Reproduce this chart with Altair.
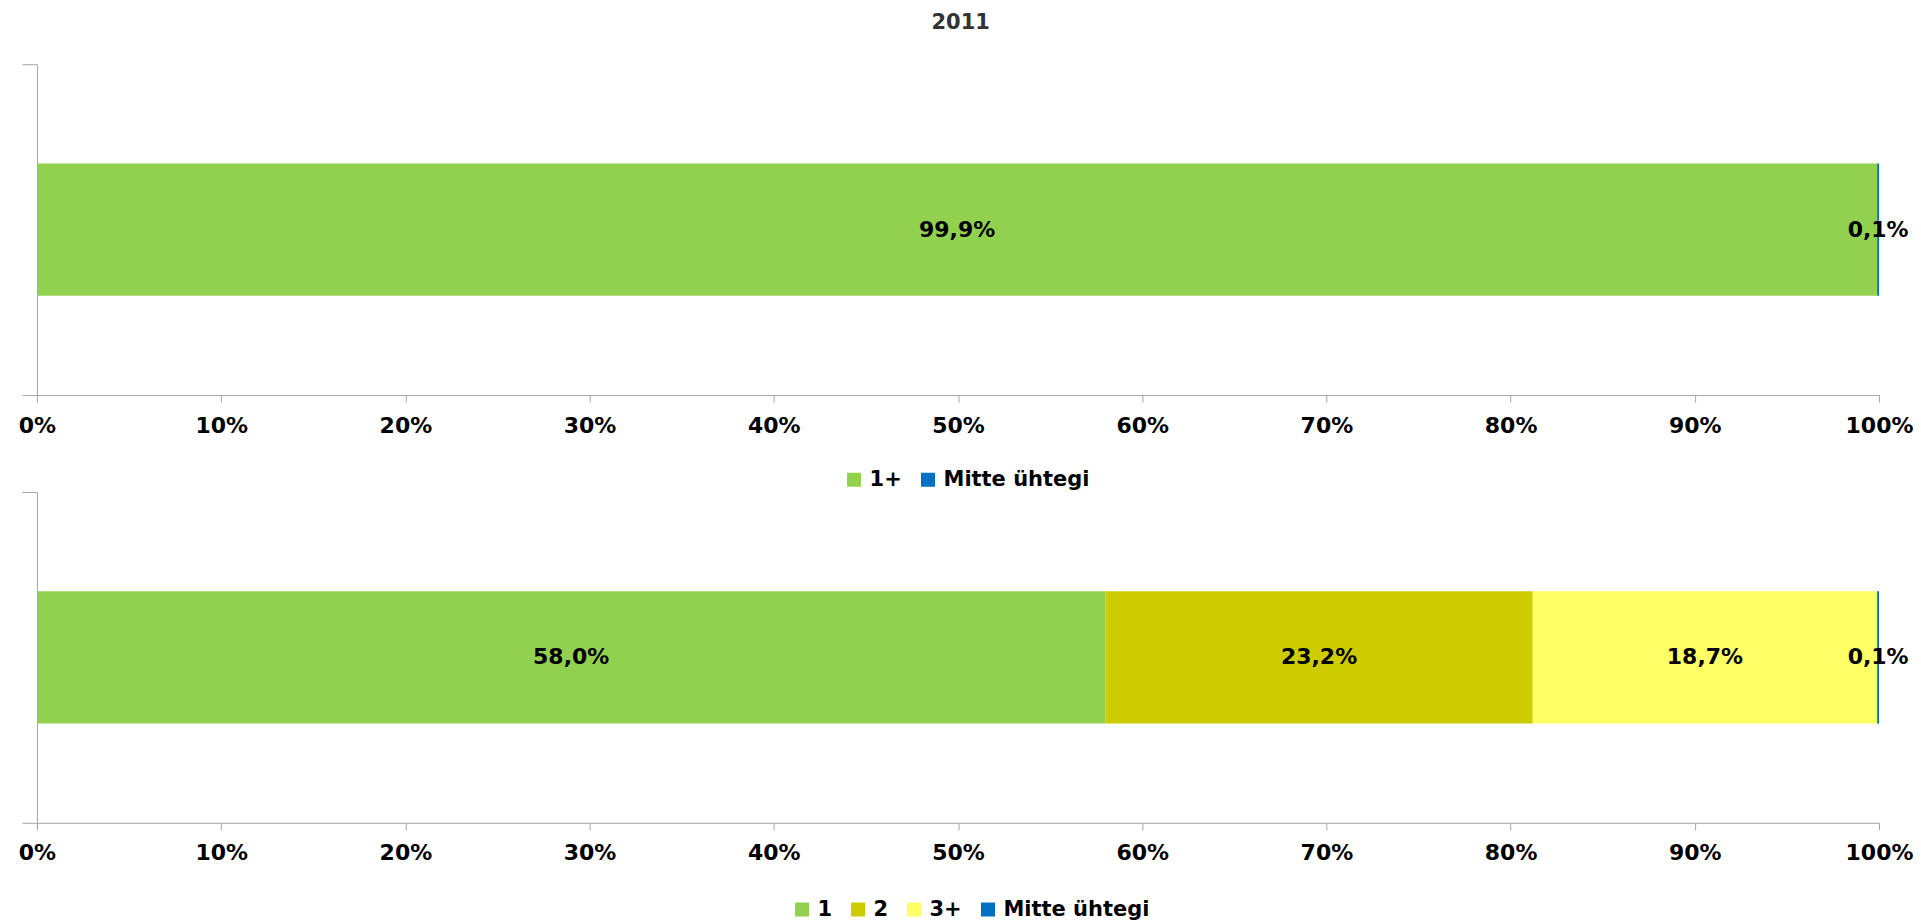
import altair as alt
import pandas as pd

title_text = "2011"

series_top = ["1+", "Mitte ühtegi"]
values_top = [99.9, 0.1]
colors_top = ["#92D050", "#0070C0"]

series_bottom = ["1", "2", "3+", "Mitte ühtegi"]
values_bottom = [58.0, 23.2, 18.7, 0.1]
colors_bottom = ["#92D050", "#CCCC00", "#FFFF66", "#0070C0"]

tick_values = [0.0, 0.1, 0.2, 0.3, 0.4, 0.5, 0.6, 0.7, 0.8, 0.9, 1.0]

FONT = "DejaVu Sans"
GRAY = "#A6A6A6"
PLOT_W = 1843
PLOT_H = 331


def fmt(v):
    return f"{v:.1f}".replace(".", ",") + "%"


def panel(series, values, colors, legend_x, legend_y):
    df = pd.DataFrame({
        "row": ["a"] * len(series),
        "series": series,
        "value": values,
        "order": list(range(len(series))),
        "label": [fmt(v) for v in values],
    })
    base = (
        alt.Chart(df)
        .transform_calculate(frac="datum.value / 100")
        .transform_stack(stack="frac", groupby=["row"], as_=["x0", "x1"],
                         sort=[alt.SortField("order")])
        .transform_calculate(mid="(datum.x0 + datum.x1) / 2")
    )
    y_enc = alt.Y(
        "row:N",
        scale=alt.Scale(paddingInner=0, paddingOuter=0),
        axis=alt.Axis(labels=False, title=None, tickBand="extent", tickSize=15,
                      tickColor=GRAY, domainColor=GRAY),
    )
    bars = base.mark_bar(height={"band": 0.4}).encode(
        x=alt.X("x0:Q", scale=alt.Scale(domain=[0, 1], nice=False),
                axis=alt.Axis(values=tick_values, format=".0%", title=None,
                              grid=False, tickSize=7, tickColor=GRAY,
                              domainColor=GRAY, labelPadding=13,
                              labelFlush=False, labelFont=FONT,
                              labelFontSize=22, labelFontWeight="bold",
                              labelColor="black")),
        x2="x1:Q",
        y=y_enc,
        color=alt.Color(
            "series:N",
            scale=alt.Scale(domain=series, range=colors),
            legend=alt.Legend(
                orient="none", legendX=legend_x, legendY=legend_y,
                direction="horizontal", title=None, symbolType="square",
                symbolSize=196, symbolStrokeWidth=0, labelFont=FONT,
                labelFontSize=21, labelFontWeight="bold", labelColor="black",
                columnPadding=15, labelOffset=5, padding=0,
            ),
        ),
    )
    text = base.mark_text(font=FONT, fontSize=22, fontWeight="bold",
                          color="black", align="center",
                          baseline="middle").encode(
        x="mid:Q",
        y=alt.Y("row:N"),
        text="label:N",
    )
    return alt.layer(bars, text).properties(width=PLOT_W, height=PLOT_H)


top = panel(series_top, values_top, colors_top, 807, 405)
bottom = panel(series_bottom, values_bottom, colors_bottom, 755, 407)

chart = (
    alt.vconcat(top, bottom, spacing=1)
    .resolve_scale(color="independent")
    .properties(
        title=alt.TitleParams(title_text, font=FONT, fontSize=21,
                              fontWeight="bold", color="#333333",
                              anchor="middle", offset=31, dx=-5),
        padding={"left": 10, "top": 3, "right": 0, "bottom": 0},
    )
    .configure_view(stroke=None)
)

chart.save("out.html", embed_options={"renderer": "svg", "actions": False})
